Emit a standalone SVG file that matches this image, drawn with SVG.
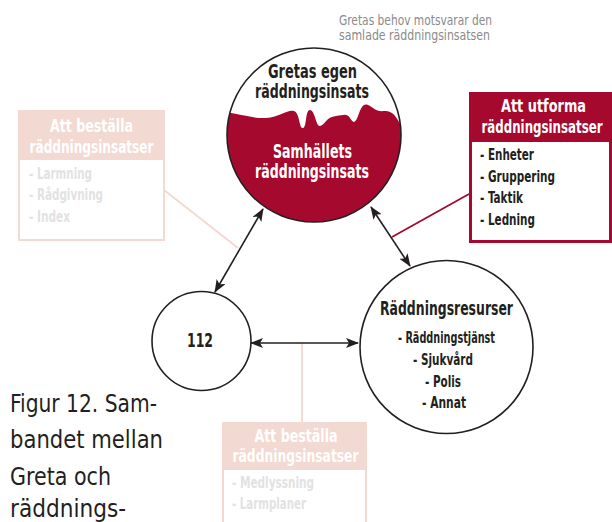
<svg xmlns="http://www.w3.org/2000/svg" width="612" height="522" viewBox="0 0 612 522">
<defs>
<style>
.t{font-family:"Liberation Sans Narrow","DejaVu Sans Condensed","Liberation Sans",Arial,sans-serif;}
.b{font-weight:bold;}
.dark{fill:#231f20;}
.wh{fill:#ffffff;}
.faint{fill:#e2e2e2;}
.gray{fill:#8a8a8a;}
.node{fill:#ffffff;stroke:#231f20;stroke-width:1.6;}
.arrow{stroke:#231f20;stroke-width:1.6;fill:none;marker-start:url(#ah);marker-end:url(#ah);}
.pinkline{stroke:#f2d9d1;stroke-width:1.8;fill:none;}
.redline{stroke:#a50a2e;stroke-width:1.8;fill:none;}
</style>
<marker id="ah" viewBox="0 0 13 10" refX="12" refY="5" markerWidth="13" markerHeight="10" markerUnits="userSpaceOnUse" orient="auto-start-reverse">
<path d="M0,0 L13,5 L0,10 L3,5 Z" fill="#231f20"/>
</marker>
<clipPath id="topclip"><circle cx="314" cy="135" r="87"/></clipPath>
</defs>

<text class="t gray" x="339" y="25" font-size="13.5" textLength="153" lengthAdjust="spacingAndGlyphs">Gretas behov motsvarar den</text>
<text class="t gray" x="339" y="40" font-size="13.5" textLength="151" lengthAdjust="spacingAndGlyphs">samlade räddningsinsatsen</text>

<g id="connectors">
<line class="pinkline" x1="164" y1="190" x2="238" y2="248"/>
<line class="redline" x1="469" y1="194" x2="392" y2="237"/>
<line class="pinkline" x1="302" y1="343" x2="302" y2="422"/>
<line class="arrow" x1="263" y1="209" x2="215" y2="292"/>
<line class="arrow" x1="371" y1="207" x2="410" y2="266"/>
<line class="arrow" x1="251" y1="343" x2="358" y2="343"/>
</g>

<g id="greta">
<circle cx="314" cy="135" r="87" fill="#ffffff"/>
<path clip-path="url(#topclip)" fill="#a50a2e" d="M 220 112 C 240 113, 252 119, 266 118 C 280 117, 288 109, 294 111 C 300 113, 299 129, 303 128 C 307 127, 305 110, 310 110 C 315 110, 316 127, 320 126 C 325 125, 326 117, 336 116 C 344 115, 347 113, 350 118 C 353 123, 355 124, 358 116 C 361 108, 363 103, 368 105 C 373 107, 376 112, 384 111 C 392 110, 397 116, 403 130 L 410 240 L 220 240 Z"/>
<circle cx="314" cy="135" r="87" fill="none" stroke="#231f20" stroke-width="1.6"/>
<text class="t b dark" x="312.5" y="78" font-size="19" text-anchor="middle" textLength="89" lengthAdjust="spacingAndGlyphs">Gretas egen</text>
<text class="t b dark" x="312" y="98" font-size="19" text-anchor="middle" textLength="114" lengthAdjust="spacingAndGlyphs">räddningsinsats</text>
<text class="t b wh" x="312.5" y="158" font-size="19" text-anchor="middle" textLength="79" lengthAdjust="spacingAndGlyphs">Samhällets</text>
<text class="t b wh" x="312" y="178" font-size="19" text-anchor="middle" textLength="114" lengthAdjust="spacingAndGlyphs">räddningsinsats</text>
</g>

<g id="bestalla-left">
<rect x="19" y="111" width="145" height="129" fill="#ffffff" stroke="#f2d9d1" stroke-width="2"/>
<rect x="18" y="110" width="147" height="50" fill="#f2d9d1"/>
<text class="t b wh" x="91.5" y="132" font-size="18" text-anchor="middle" textLength="83" lengthAdjust="spacingAndGlyphs">Att beställa</text>
<text class="t b wh" x="91.5" y="153" font-size="18" text-anchor="middle" textLength="124" lengthAdjust="spacingAndGlyphs">räddningsinsatser</text>
<text class="t b faint" x="29" y="179" font-size="15" textLength="63" lengthAdjust="spacingAndGlyphs">- Larmning</text>
<text class="t b faint" x="29" y="200" font-size="15" textLength="74" lengthAdjust="spacingAndGlyphs">- Rådgivning</text>
<text class="t b faint" x="29" y="222" font-size="15" textLength="41" lengthAdjust="spacingAndGlyphs">- Index</text>
</g>

<g id="utforma">
<rect x="470.5" y="93.5" width="140" height="148" fill="#ffffff" stroke="#a50a2e" stroke-width="3"/>
<rect x="469" y="92" width="143" height="50" fill="#a50a2e"/>
<text class="t b wh" x="543.5" y="112" font-size="18" text-anchor="middle" textLength="85" lengthAdjust="spacingAndGlyphs">Att utforma</text>
<text class="t b wh" x="542" y="132.5" font-size="17.5" text-anchor="middle" textLength="121" lengthAdjust="spacingAndGlyphs">räddningsinsatser</text>
<text class="t b dark" x="480" y="160" font-size="15" textLength="54" lengthAdjust="spacingAndGlyphs">- Enheter</text>
<text class="t b dark" x="480" y="182" font-size="15" textLength="75" lengthAdjust="spacingAndGlyphs">- Gruppering</text>
<text class="t b dark" x="480" y="203" font-size="15" textLength="43" lengthAdjust="spacingAndGlyphs">- Taktik</text>
<text class="t b dark" x="480" y="225" font-size="15" textLength="55" lengthAdjust="spacingAndGlyphs">- Ledning</text>
</g>

<g id="n112">
<circle class="node" cx="201.5" cy="341" r="49.5"/>
<text class="t b dark" x="200" y="347" font-size="19" text-anchor="middle" textLength="26" lengthAdjust="spacingAndGlyphs">112</text>
</g>

<g id="resurser">
<circle class="node" cx="446.5" cy="347" r="86.5"/>
<text class="t b dark" x="446.5" y="315" font-size="19" text-anchor="middle" textLength="133" lengthAdjust="spacingAndGlyphs">Räddningsresurser</text>
<text class="t b dark" x="446.5" y="343" font-size="15" text-anchor="middle" textLength="97" lengthAdjust="spacingAndGlyphs">- Räddningstjänst</text>
<text class="t b dark" x="443" y="365" font-size="15" text-anchor="middle" textLength="60" lengthAdjust="spacingAndGlyphs">- Sjukvård</text>
<text class="t b dark" x="443" y="387" font-size="15" text-anchor="middle" textLength="36" lengthAdjust="spacingAndGlyphs">- Polis</text>
<text class="t b dark" x="444" y="408" font-size="15" text-anchor="middle" textLength="44" lengthAdjust="spacingAndGlyphs">- Annat</text>
</g>

<g id="bestalla-bottom">
<rect x="223" y="423" width="143" height="110" fill="#ffffff" stroke="#f2d9d1" stroke-width="2"/>
<rect x="222" y="422" width="145" height="48" fill="#f2d9d1"/>
<text class="t b wh" x="296" y="442" font-size="18" text-anchor="middle" textLength="83" lengthAdjust="spacingAndGlyphs">Att beställa</text>
<text class="t b wh" x="295.5" y="462" font-size="18" text-anchor="middle" textLength="126" lengthAdjust="spacingAndGlyphs">räddningsinsatser</text>
<text class="t b faint" x="232" y="488" font-size="15" textLength="82" lengthAdjust="spacingAndGlyphs">- Medlyssning</text>
<text class="t b faint" x="232" y="509" font-size="15" textLength="74" lengthAdjust="spacingAndGlyphs">- Larmplaner</text>
</g>

<g id="caption">
<text class="t dark" x="10" y="412" font-size="25" textLength="147" lengthAdjust="spacingAndGlyphs">Figur 12. Sam-</text>
<text class="t dark" x="10" y="448" font-size="25" textLength="153" lengthAdjust="spacingAndGlyphs">bandet mellan</text>
<text class="t dark" x="10" y="485" font-size="25" textLength="101" lengthAdjust="spacingAndGlyphs">Greta och</text>
<text class="t dark" x="10" y="517" font-size="25" textLength="116" lengthAdjust="spacingAndGlyphs">räddnings-</text>
</g>
</svg>
